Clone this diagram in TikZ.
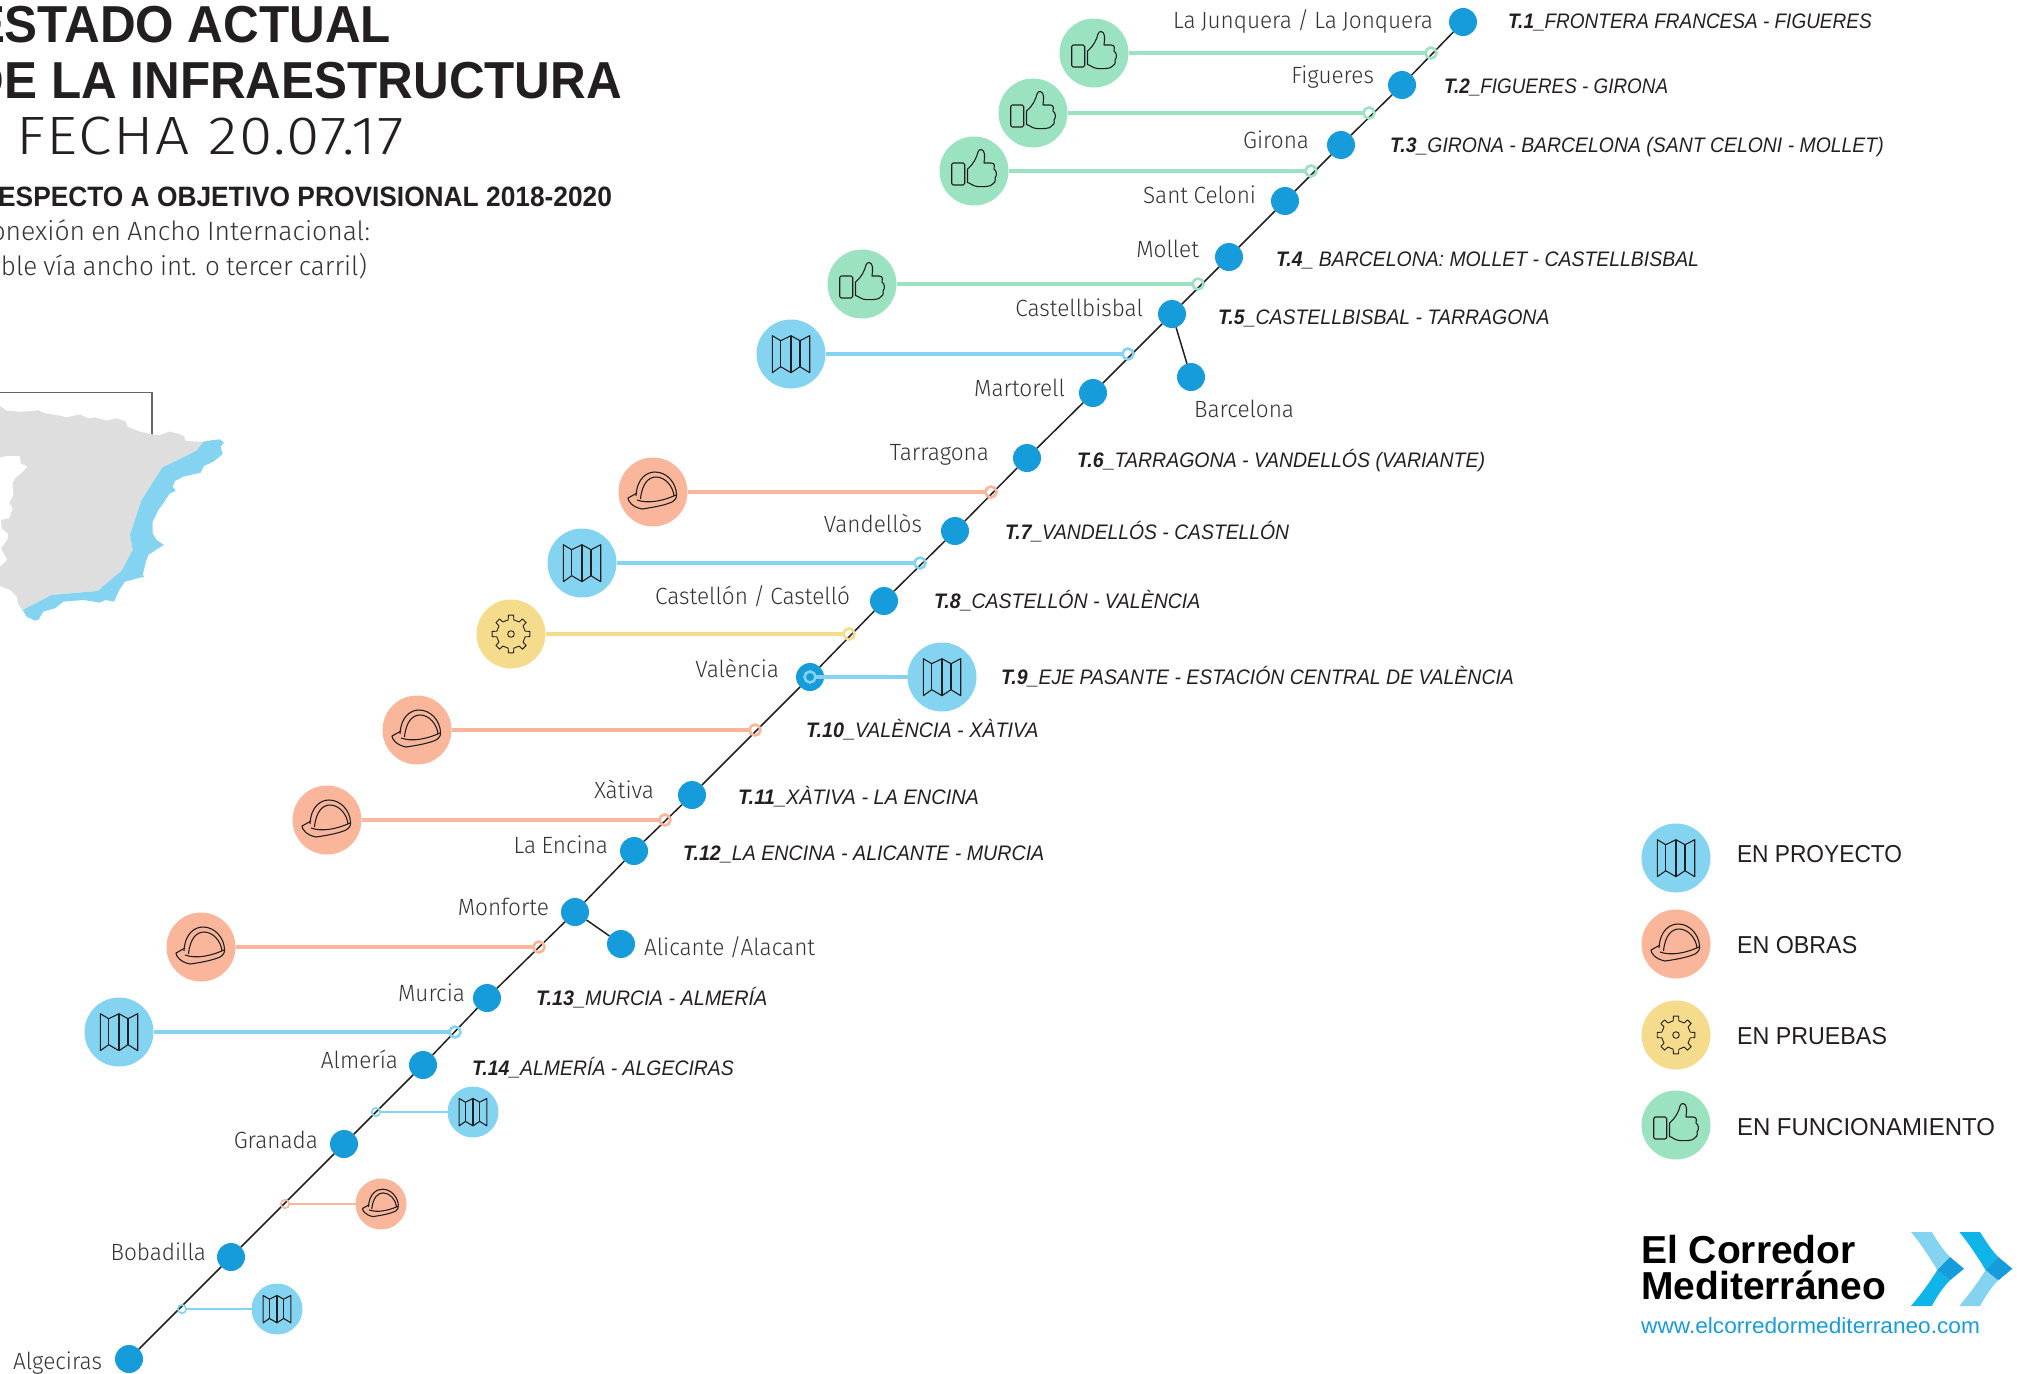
\documentclass[tikz,border=0pt]{standalone}
\usepackage{fontspec}
\setmainfont{Liberation Sans}
\newfontfamily\lightf{Fira Sans Light}[FakeStretch=0.96,WordSpace=0.85]
\newfontfamily\lightsub{Fira Sans Light}[WordSpace=0.85]
\newfontfamily\lightw{Fira Sans Light}[FakeStretch=1.12,LetterSpace=3]
\newfontfamily\regf{Liberation Sans}[FakeStretch=0.95]
\newfontfamily\urlf{Liberation Sans}[FakeStretch=1.03]
\newfontfamily\boldt{Liberation Sans Bold}[FakeStretch=0.95]
\newfontfamily\boldf{Liberation Sans Bold}[FakeStretch=0.94]
\newfontfamily\itf{Liberation Sans Italic}[FakeStretch=0.92]
\newfontfamily\bitf{Liberation Sans Bold Italic}[FakeStretch=0.92]
\newfontfamily\logof{Liberation Sans Bold}
\newcommand{\sx}[2]{\scalebox{#1}[1]{#2}}
\definecolor{nodeblue}{HTML}{169BDB}
\definecolor{cmap}{HTML}{84D4F1}
\definecolor{chat}{HTML}{F9B69B}
\definecolor{cgear}{HTML}{F5DB8C}
\definecolor{cthumb}{HTML}{9BE2C0}
\definecolor{ccyan}{HTML}{0FB5E9}
\definecolor{ink}{HTML}{231F20}
\definecolor{soft}{HTML}{333333}
\tikzset{
  x=1pt,y=-1pt,
  station/.style={circle,fill=nodeblue,minimum size=28pt,inner sep=0pt,outer sep=0pt},
  bigc/.style={circle,fill=#1,minimum size=69pt,inner sep=0pt,outer sep=0pt},
  smallc/.style={circle,fill=#1,minimum size=51pt,inner sep=0pt,outer sep=0pt},
  ring/.style={circle,draw=#1,line width=2.6pt,minimum size=11pt,inner sep=0pt,outer sep=0pt},
  sring/.style={circle,draw=#1,line width=1.6pt,minimum size=8.5pt,inner sep=0pt,outer sep=0pt},
  conn/.style={draw=#1,line width=3.2pt},
  sconn/.style={draw=#1,line width=2.2pt},
  lab/.style={inner sep=0pt,outer sep=0pt,font=\lightf\fontsize{23.5}{25}\selectfont,text=soft},
  tlab/.style={inner sep=0pt,outer sep=0pt,anchor=base west,font=\itf\fontsize{21}{24}\selectfont,text=ink},
  leg/.style={inner sep=0pt,outer sep=0pt,anchor=base west,font=\regf\fontsize{24.5}{26}\selectfont,text=ink},
  titl/.style={anchor=base east,inner sep=0pt,outer sep=0pt},
  icon/.style={draw=ink,line width=1.1pt,line join=round},
  pics/mapicon/.style={code={
    \draw[icon] (-18.7,-18.3) -- (-10.3,-13.3) -- (0,-18.3) -- (9,-13.3) -- (18.7,-18.3) -- (18.7,18.7) -- (9,12.7) -- (0,18.7) -- (-10.3,12.7) -- (-18.7,18.7) -- cycle;
    \draw[icon] (-10.3,-13.3) -- (-10.3,12.7) (0,-18.3) -- (0,18.7) (9,-13.3) -- (9,12.7);
  }},
  pics/haticon/.style={code={
    \draw[icon] (-17,4) .. controls (-16,-14) and (-6,-20) .. (2,-20) .. controls (14,-20) and (23,-9) .. (23.5,2);
    \draw[icon] (-12.5,7) .. controls (-11,-9) and (-4,-15) .. (3,-15) .. controls (12,-15) and (20,-6) .. (21,4);
    \draw[icon] (-16,1) -- (-25,6) .. controls (-25,9) and (-21,15) .. (-11,17) .. controls (3,15) and (12,13) .. (19,10) .. controls (22,8) and (24,6) .. (23.5,2);
    \draw[icon] (-16,8) .. controls (-5,12) and (10,9) .. (23,3);
  }},
  pics/gearicon/.style={code={
    \draw[icon,line width=.9pt] (-11:14.5) \foreach \a in {0,45,...,315}{ -- (\a-11:14.5) -- (\a-8:19) -- (\a+8:19) -- (\a+11:14.5)} -- cycle;
    \draw[icon,line width=.9pt] (0,0) circle[radius=3.3];
  }},
  pics/thumbicon/.style={code={
    \draw[icon,rounded corners=1.5pt] (-22.3,-8) rectangle (-9.3,14);
    \draw[icon] (-6.5,-2) .. controls (-1,-6) and (3,-14) .. (4,-19) .. controls (5,-23) and (10,-22) .. (10.5,-17) .. controls (11,-14) and (10,-11) .. (10,-8) -- (17,-8) .. controls (21,-8) and (21,-4) .. (20,-2) .. controls (23,0) and (23,5) .. (21,7) .. controls (22,10) and (20,13) .. (18,13.5) .. controls (17,15.5) and (10,16) .. (3,15.5) .. controls (-1,15) and (-4,12) .. (-6.5,11.5) -- cycle;
  }},
  pics/chevron/.style 2 args={code={
    \fill[#1] (0,0) -- (20.7,0) .. controls (27,10) and (32,18) .. (39,25) -- (26.3,38) .. controls (19,26) and (10,12) .. (0,0) -- cycle;
    \fill[#2] (26.3,38) -- (39,48.3) .. controls (32,55) and (27,63) .. (20.7,74) -- (0,74) .. controls (10,62) and (19,50) .. (26.3,38) -- cycle;
    \fill[nodeblue] (39,25) -- (53,36.7) -- (39,48.3) -- (26.3,38) -- cycle;
  }},
}
\begin{document}
\begin{tikzpicture}
\useasboundingbox (0,0) rectangle (2020,1373);
\clip (0,0) rectangle (2020,1373);
% titles
\node[titl,font=\boldt\fontsize{52}{54}\selectfont,text=ink] (t1) at (391,42) {ESTADO ACTUAL};
\node[titl,font=\boldt\fontsize{52}{54}\selectfont,text=ink] (t2) at (622,98) {DE LA INFRAESTRUCTURA};
\node[titl,font=\lightw\fontsize{54}{56}\selectfont,text=ink] (t3) at (404,154) {A FECHA 20.07.17};
\node[titl,font=\boldf\fontsize{28}{30}\selectfont,text=ink] (t4) at (612,206) {ESPECTO A OBJETIVO PROVISIONAL 2018-2020};
\node[titl,font=\lightsub\fontsize{26.5}{30}\selectfont,text=soft] (t5) at (370,240) {onexión en Ancho Internacional:};
\node[titl,font=\lightsub\fontsize{26.5}{30}\selectfont,text=soft] (t6) at (367,275) {\sx{.98}{oble vía ancho int. o tercer carril)}};
% map
\begin{scope}[shift={(0,380)},x=0.3333pt,y=-0.3333pt]
\draw[color=black!60,line width=1.3pt] (0,38) -- (456,38) -- (456,165);
\fill[black!13] (0,78) -- (20,92) -- (60,95) -- (105,93) -- (112,90) -- (135,100) -- (170,105) -- (200,112) -- (240,103) -- (265,115) -- (285,112) -- (320,122) -- (350,115) -- (378,125) -- (382,140) -- (420,155) -- (455,163) -- (480,165) -- (507,155) -- (530,160) -- (553,168) -- (555,182) -- (585,185) -- (610,185) -- (590,212) -- (487,263) -- (425,360) -- (390,463) -- (398,510) -- (365,572) -- (293,633) -- (155,645) -- (68,690) -- (55,675) -- (50,650) -- (30,630) -- (0,618) -- (0,560) -- (22,540) -- (3,505) -- (22,480) -- (25,462) -- (5,445) -- (3,420) -- (28,415) -- (38,385) -- (28,370) -- (40,345) -- (38,310) -- (45,295) -- (70,275) -- (82,260) -- (62,250) -- (60,228) -- (20,228) -- (0,232) -- cycle;
\fill[cmap] (610,185) -- (640,180) -- (660,178) -- (672,188) -- (662,200) -- (668,222) -- (640,245) -- (612,258) -- (602,278) -- (550,290) -- (525,303) -- (518,320) -- (527,332) -- (508,342) -- (490,370) -- (475,390) -- (458,425) -- (458,460) -- (470,480) -- (492,495) -- (470,508) -- (445,525) -- (438,545) -- (428,585) -- (433,590) -- (405,597) -- (375,605) -- (358,630) -- (342,665) -- (315,660) -- (300,668) -- (250,660) -- (190,665) -- (165,685) -- (130,695) -- (115,720) -- (105,722) -- (80,710) -- (68,690) -- (155,645) -- (293,633) -- (365,572) -- (398,510) -- (390,463) -- (425,360) -- (487,263) -- (590,212) -- cycle;
\end{scope}
\begin{scope}[yshift=-1pt]
% stations
\node[station] (sjunquera) at (1463,21) {};
\node[station] (sfigueres) at (1402,84) {};
\node[station] (sgirona) at (1341,144) {};
\node[station] (sceloni) at (1285,200) {};
\node[station] (smollet) at (1229,256) {};
\node[station] (scastell) at (1172,313) {};
\node[station] (sbarcelona) at (1191,376) {};
\node[station] (smartorell) at (1093,392) {};
\node[station] (starragona) at (1027,457) {};
\node[station] (svandellos) at (955,530) {};
\node[station] (scastellon) at (884,600) {};
\node[station] (svalencia) at (810,676) {};
\node[station] (sxativa) at (692,794) {};
\node[station] (sencina) at (634,850) {};
\node[station] (smonforte) at (575,911) {};
\node[station] (salicante) at (621,943) {};
\node[station] (smurcia) at (487,997) {};
\node[station] (salmeria) at (423,1064) {};
\node[station] (sgranada) at (344,1143) {};
\node[station] (sbobadilla) at (231,1256) {};
\node[station] (salgeciras) at (129,1358) {};
% main line
\draw[ink,line width=1.5pt] (sjunquera) -- (sfigueres) -- (sgirona) -- (sceloni) -- (smollet) -- (scastell) -- (smartorell) -- (starragona) -- (svandellos) -- (scastellon) -- (svalencia) -- (sxativa) -- (sencina) -- (smonforte) -- (smurcia) -- (salmeria) -- (sgranada) -- (sbobadilla) -- (salgeciras);
\draw[ink,line width=1.5pt] (scastell) -- (sbarcelona);
\draw[ink,line width=1.5pt] (smonforte) -- (salicante);
% icons and rings
\node[bigc=cthumb] (i1) at (1094,52) {}; \pic at (i1) {thumbicon};
\node[ring=cthumb] (r1) at (1431,52) {}; \draw[conn=cthumb] (i1) -- (r1);
\node[bigc=cthumb] (i2) at (1033,112) {}; \pic at (i2) {thumbicon};
\node[ring=cthumb] (r2) at (1369,112) {}; \draw[conn=cthumb] (i2) -- (r2);
\node[bigc=cthumb] (i3) at (974,170) {}; \pic at (i3) {thumbicon};
\node[ring=cthumb] (r3) at (1311,170) {}; \draw[conn=cthumb] (i3) -- (r3);
\node[bigc=cthumb] (i4) at (862,283) {}; \pic at (i4) {thumbicon};
\node[ring=cthumb] (r4) at (1198,283) {}; \draw[conn=cthumb] (i4) -- (r4);
\node[bigc=cmap] (i5) at (791,353) {}; \pic at (i5) {mapicon};
\node[ring=cmap] (r5) at (1128,353) {}; \draw[conn=cmap] (i5) -- (r5);
\node[bigc=chat] (i6) at (653,491) {}; \pic at (i6) {haticon};
\node[ring=chat] (r6) at (991,491) {}; \draw[conn=chat] (i6) -- (r6);
\node[bigc=cmap] (i7) at (582,562) {}; \pic at (i7) {mapicon};
\node[ring=cmap] (r7) at (920,562) {}; \draw[conn=cmap] (i7) -- (r7);
\node[bigc=cgear] (i8) at (511,633) {}; \pic at (i8) {gearicon};
\node[ring=cgear] (r8) at (849,633) {}; \draw[conn=cgear] (i8) -- (r8);
\node[bigc=cmap] (i9) at (942,676) {}; \pic at (i9) {mapicon};
\node[ring=cmap] (r9) at (810,676) {}; \draw[conn=cmap] (i9) -- (r9);
\node[bigc=chat] (i10) at (417,729) {}; \pic at (i10) {haticon};
\node[ring=chat] (r10) at (755,729) {}; \draw[conn=chat] (i10) -- (r10);
\node[bigc=chat] (i11) at (327,819) {}; \pic at (i11) {haticon};
\node[ring=chat] (r11) at (665,819) {}; \draw[conn=chat] (i11) -- (r11);
\node[bigc=chat] (i12) at (201,946) {}; \pic at (i12) {haticon};
\node[ring=chat] (r12) at (539,946) {}; \draw[conn=chat] (i12) -- (r12);
\node[bigc=cmap] (i13) at (119,1031) {}; \pic at (i13) {mapicon};
\node[ring=cmap] (r13) at (455,1031) {}; \draw[conn=cmap] (i13) -- (r13);
\node[smallc=cmap] (i14) at (473,1111) {}; \pic[scale=.74] at (i14) {mapicon};
\node[sring=cmap] (r14) at (376,1111) {}; \draw[sconn=cmap] (i14) -- (r14);
\node[smallc=chat] (i15) at (381,1203) {}; \pic[scale=.74] at (i15) {haticon};
\node[sring=chat] (r15) at (285,1203) {}; \draw[sconn=chat] (i15) -- (r15);
\node[smallc=cmap] (i16) at (277,1308) {}; \pic[scale=.74] at (i16) {mapicon};
\node[sring=cmap] (r16) at (182,1308) {}; \draw[sconn=cmap] (i16) -- (r16);
% legend
\node[bigc=cmap] (k1) at (1676,857) {}; \pic at (k1) {mapicon};
\node[bigc=chat] (k2) at (1676,943) {}; \pic at (k2) {haticon};
\node[bigc=cgear] (k3) at (1676,1034) {}; \pic at (k3) {gearicon};
\node[bigc=cthumb] (k4) at (1676,1124) {}; \pic at (k4) {thumbicon};
% chevrons
\pic at (1911,1231) {chevron={cmap}{ccyan}};
\pic at (1959.3,1231) {chevron={ccyan}{cmap}};
\end{scope}
% station labels
\node[lab,anchor=base east] (l1) at (1433,28) {La Junquera / La Jonquera};
\node[lab,anchor=base east] (l2) at (1374,83) {Figueres};
\node[lab,anchor=base east] (l3) at (1309,148) {Girona};
\node[lab,anchor=base east] (l4) at (1256,203) {Sant Celoni};
\node[lab,anchor=base east] (l5) at (1199,257) {Mollet};
\node[lab,anchor=base east] (l6) at (1143,316) {Castellbisbal};
\node[lab,anchor=base west] (l7) at (1194,417) {Barcelona};
\node[lab,anchor=base east] (l8) at (1065,396) {Martorell};
\node[lab,anchor=base east] (l9) at (989,460) {Tarragona};
\node[lab,anchor=base east] (l10) at (922,532) {Vandellòs};
\node[lab,anchor=base east] (l11) at (850,604) {Castellón / Castelló};
\node[lab,anchor=base east] (l12) at (779,677) {València};
\node[lab,anchor=base east] (l13) at (654,798) {Xàtiva};
\node[lab,anchor=base east] (l14) at (608,853) {La Encina};
\node[lab,anchor=base east] (l15) at (549,915) {Monforte};
\node[lab,anchor=base west] (l16) at (644,955) {Alicante /Alacant};
\node[lab,anchor=base east] (l17) at (465,1001) {Murcia};
\node[lab,anchor=base east] (l18) at (398,1068) {Almería};
\node[lab,anchor=base east] (l19) at (318,1148) {Granada};
\node[lab,anchor=base east] (l20) at (206,1260) {Bobadilla};
\node[lab,anchor=base east] (l21) at (102,1369) {Algeciras};
% section labels
\node[tlab] (s1) at (1508,28) {\sx{.983}{{\bitf T.1\_}FRONTERA FRANCESA - FIGUERES}};
\node[tlab] (s2) at (1444,93) {\sx{.977}{{\bitf T.2\_}FIGUERES - GIRONA}};
\node[tlab] (s3) at (1390,152) {\sx{1.005}{{\bitf T.3\_}GIRONA - BARCELONA (SANT CELONI - MOLLET)}};
\node[tlab] (s4) at (1276,266) {\sx{1.006}{{\bitf T.4\_} BARCELONA: MOLLET - CASTELLBISBAL}};
\node[tlab] (s5) at (1218,324) {\sx{1.008}{{\bitf T.5\_}CASTELLBISBAL - TARRAGONA}};
\node[tlab] (s6) at (1077,467) {\sx{1.01}{{\bitf T.6\_}TARRAGONA - VANDELLÓS (VARIANTE)}};
\node[tlab] (s7) at (1005,539) {{\bitf T.7\_}VANDELLÓS - CASTELLÓN};
\node[tlab] (s8) at (934,608) {\sx{1.01}{{\bitf T.8\_}CASTELLÓN - VALÈNCIA}};
\node[tlab] (s9) at (1001,684) {\sx{1.008}{{\bitf T.9\_}EJE PASANTE - ESTACIÓN CENTRAL DE VALÈNCIA}};
\node[tlab] (s10) at (806,737) {\sx{1.023}{{\bitf T.10\_}VALÈNCIA - XÀTIVA}};
\node[tlab] (s11) at (738,804) {\sx{1.033}{{\bitf T.11\_}XÀTIVA - LA ENCINA}};
\node[tlab] (s12) at (683,860) {\sx{1.018}{{\bitf T.12\_}LA ENCINA - ALICANTE - MURCIA}};
\node[tlab] (s13) at (536,1005) {\sx{1.023}{{\bitf T.13\_}MURCIA - ALMERÍA}};
\node[tlab] (s14) at (472,1075) {\sx{1.005}{{\bitf T.14\_}ALMERÍA - ALGECIRAS}};
% legend texts
\node[leg] (kt1) at (1737,862) {\sx{.977}{EN PROYECTO}};
\node[leg] (kt2) at (1737,953) {EN OBRAS};
\node[leg] (kt3) at (1737,1044) {EN PRUEBAS};
\node[leg] (kt4) at (1737,1135) {\sx{1.03}{EN FUNCIONAMIENTO}};
% logo
\node[anchor=base west,inner sep=0pt,font=\logof\fontsize{39}{40}\selectfont,text=black] (g1) at (1641,1263) {El Corredor};
\node[anchor=base west,inner sep=0pt,font=\logof\fontsize{39}{40}\selectfont,text=black] (g2) at (1641,1299) {Mediterráneo};
\node[anchor=base west,inner sep=0pt,font=\urlf\fontsize{22}{24}\selectfont,text=nodeblue] (g3) at (1641,1333) {www.elcorredormediterraneo.com};
\end{tikzpicture}
\end{document}
